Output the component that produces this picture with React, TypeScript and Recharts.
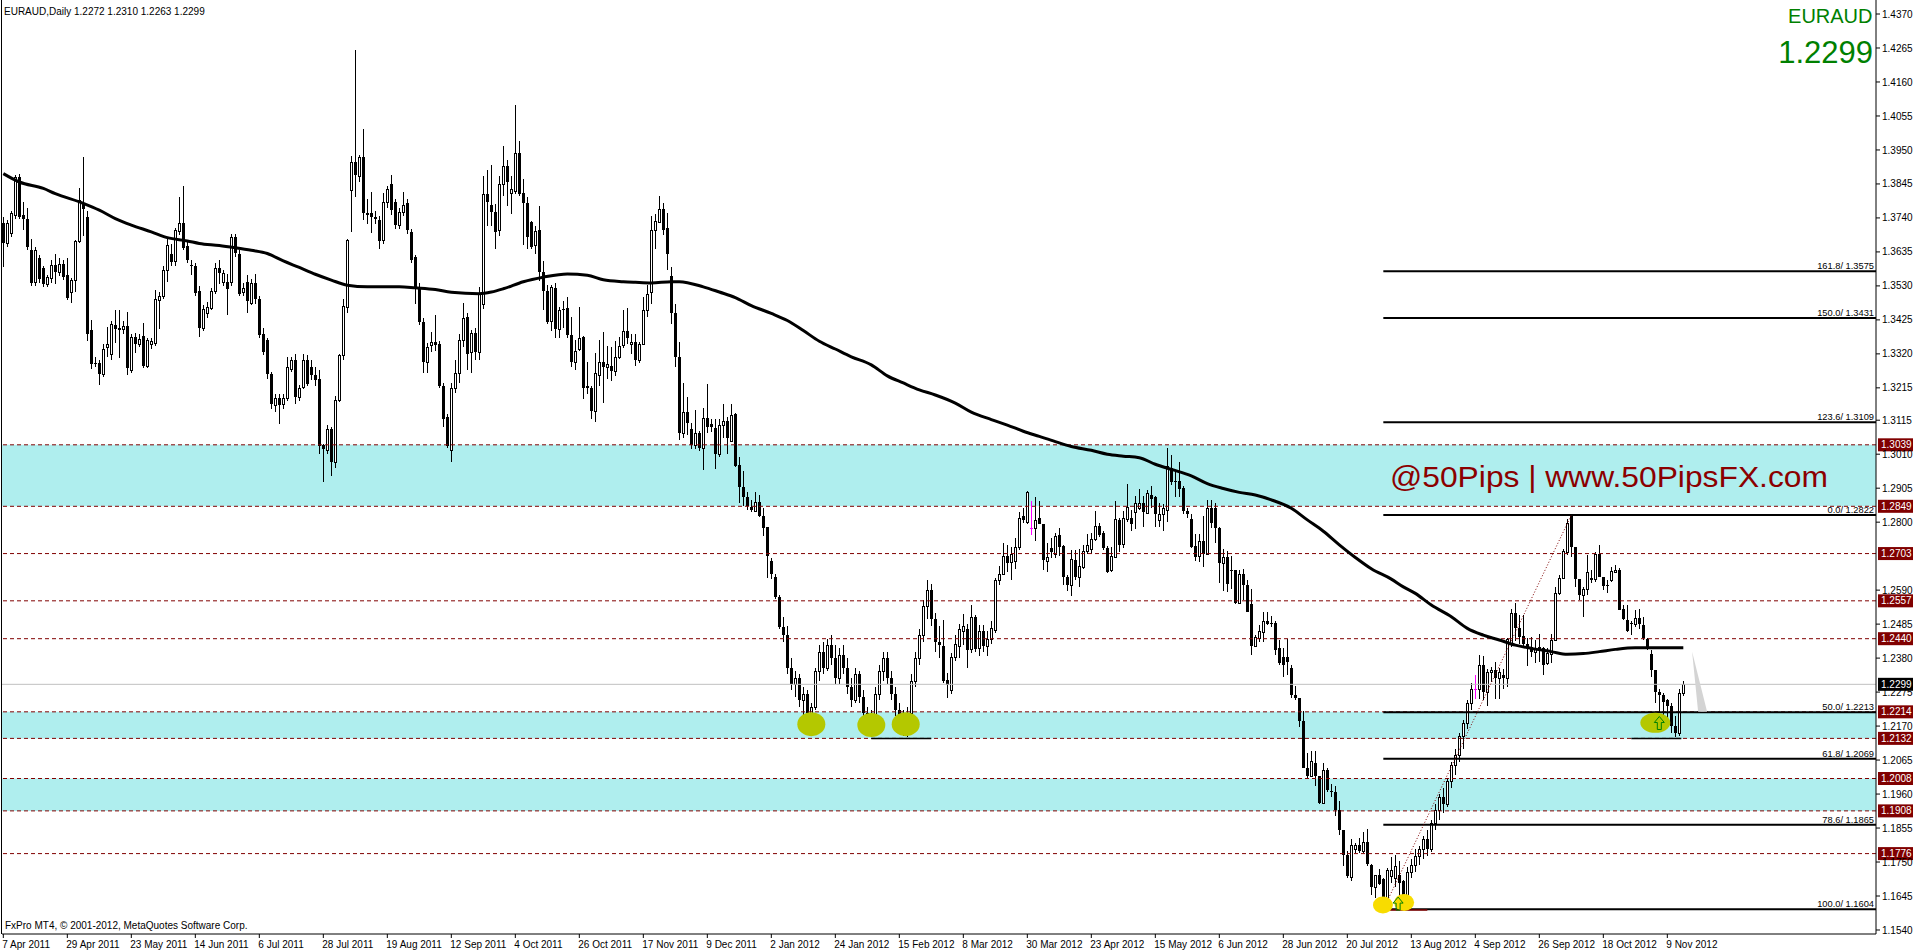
import React from 'react';
import { ComposedChart, Bar, Line, XAxis, YAxis, ReferenceLine, ReferenceArea, ReferenceDot } from 'recharts';

const FONT = '"Liberation Sans", Arial, Helvetica, sans-serif';

// ---- x axis labels (one every 16 daily bars, starting at bar 0) ----
const dateLabels = [
  '7 Apr 2011', '29 Apr 2011', '23 May 2011', '14 Jun 2011', '6 Jul 2011', '28 Jul 2011', '19 Aug 2011',
  '12 Sep 2011', '4 Oct 2011', '26 Oct 2011', '17 Nov 2011', '9 Dec 2011', '2 Jan 2012', '24 Jan 2012',
  '15 Feb 2012', '8 Mar 2012', '30 Mar 2012', '23 Apr 2012', '15 May 2012', '6 Jun 2012', '28 Jun 2012',
  '20 Jul 2012', '13 Aug 2012', '4 Sep 2012', '26 Sep 2012', '18 Oct 2012', '9 Nov 2012',
];

// ---- price axis ticks ----
const priceTicks = [
  1.437, 1.4265, 1.416, 1.4055, 1.395, 1.3845, 1.374, 1.3635, 1.353, 1.3425, 1.332, 1.3215, 1.3115, 1.301,
  1.2905, 1.28, 1.259, 1.2485, 1.238, 1.2275, 1.217, 1.2065, 1.196, 1.1855, 1.175, 1.1645, 1.154,
];

// ---- horizontal support / resistance levels (dashed, with tags) ----
const levels = [1.3039, 1.2849, 1.2703, 1.2557, 1.244, 1.2214, 1.2132, 1.2008, 1.1908, 1.1776];
const zones: [number, number][] = [[1.3039, 1.2849], [1.2214, 1.2132], [1.2008, 1.1908]];
const lastPrice = 1.2299;

// ---- fibonacci levels ----
const fibPcts = ['161.8', '150.0', '123.6', '0.0', '50.0', '61.8', '78.6', '100.0'];
const fibPrices = [1.3575, 1.3431, 1.3109, 1.2822, 1.2213, 1.2069, 1.1865, 1.1604];
const fibStartBar = 345;
const fibSwing: [number, number][] = [[345, 1.1604], [392, 1.2822]];

// ---- daily candles, O H L C in pips (x 1e-4) ----
// Apr 2011 - Jun 2011 (bars 0-59)
const candlesSeg1: number[][] = [
  [13723,13743,13589,13661],[13661,13733,13651,13723],[13692,13760,13680,13754],[13748,13872,13738,13867],[13867,13875,13738,13743],
  [13748,13790,13704,13738],[13738,13771,13642,13651],[13642,13676,13529,13539],[13542,13650,13530,13640],[13615,13625,13540,13550],
  [13584,13590,13527,13537],[13537,13565,13527,13556],[13553,13610,13540,13594],[13596,13630,13537,13573],[13573,13617,13560,13599],
  [13599,13610,13548,13558],[13563,13617,13486,13493],[13512,13555,13478,13548],[13548,13673,13512,13668],[13668,13831,13661,13795],
  [13787,13929,13684,13769],[13743,13760,13360,13380],[13393,13426,13272,13290],[13293,13310,13280,13290],[13292,13300,13225,13257],
  [13257,13350,13250,13336],[13340,13403,13311,13350],[13319,13420,13300,13412],[13409,13457,13354,13398],[13400,13457,13306,13395],
  [13398,13420,13380,13405],[13405,13450,13254,13275],[13269,13380,13260,13372],[13372,13383,13323,13350],[13352,13380,13340,13367],
  [13376,13416,13275,13283],[13283,13370,13275,13364],[13350,13370,13335,13359],[13354,13517,13345,13489],[13486,13510,13398,13498],
  [13498,13590,13490,13578],[13578,13676,13542,13656],[13628,13660,13590,13604],[13607,13710,13590,13702],[13700,13805,13687,13723],
  [13723,13838,13640,13648],[13653,13670,13600,13611],[13596,13611,13563,13591],[13592,13600,13500,13509],[13514,13529,13372,13401],
  [13401,13470,13390,13458],[13447,13480,13430,13465],[13463,13525,13455,13515],[13515,13601,13504,13584],[13584,13611,13537,13571],
  [13542,13580,13530,13571],[13542,13568,13439,13519],[13542,13690,13530,13681],[13681,13690,13620,13632],[13630,13640,13498,13506],
];
// Jul 2011 - Sep 2011 (bars 60-119)
const candlesSeg2: number[][] = [
  [13512,13540,13500,13522],[13542,13563,13447,13483],[13478,13550,13470,13540],[13540,13568,13475,13491],[13491,13500,13370,13378],
  [13381,13401,13315,13326],[13364,13370,13241,13259],[13259,13265,13151,13166],[13161,13195,13140,13184],[13184,13195,13103,13161],
  [13166,13195,13150,13184],[13184,13309,13175,13280],[13272,13309,13265,13302],[13302,13321,13164,13187],[13187,13225,13175,13215],
  [13218,13321,13210,13302],[13302,13315,13220,13228],[13280,13300,13240,13254],[13254,13280,13220,13239],[13242,13269,13012,13035],
  [13038,13043,12924,13027],[13022,13100,13010,13089],[13089,13095,12942,12986],[12986,13190,12966,13177],[13177,13320,13170,13316],
  [13316,13488,13300,13467],[13465,13676,13445,13671],[13826,13931,13697,13913],[13913,14260,13805,13872],[13869,13935,13850,13929],
  [13929,14016,13733,13754],[13754,13800,13720,13748],[13756,13821,13694,13743],[13743,13760,13720,13738],[13735,13745,13645,13669],
  [13673,13817,13660,13790],[13790,13840,13770,13828],[13846,13872,13750,13764],[13790,13800,13705,13718],[13718,13770,13705,13759],
  [13759,13820,13745,13781],[13787,13800,13690,13704],[13695,13705,13600,13611],[13618,13625,13475,13519],[13519,13540,13410,13419],
  [13419,13430,13260,13295],[13295,13355,13260,13340],[13347,13388,13327,13357],[13357,13439,13330,13347],[13352,13360,13215,13220],
  [13222,13230,13095,13120],[13125,13135,13030,13035],[13022,13230,12986,13215],[13215,13300,13200,13261],[13261,13380,13230,13364],
  [13364,13478,13340,13431],[13434,13445,13270,13321],[13326,13395,13262,13383],[13385,13400,13300,13326],[13326,13527,13300,13508],
];
// Sep 2011 - Dec 2011 (bars 120-179)
const candlesSeg3: number[][] = [
  [13474,13869,13460,13814],[13814,13887,13716,13789],[13780,13902,13716,13759],[13759,13783,13645,13698],[13704,13869,13685,13844],
  [13844,13963,13808,13899],[13899,13918,13777,13851],[13818,13869,13753,13829],[13824,14089,13814,13942],[13940,13979,13808,13814],
  [13816,13860,13655,13786],[13786,13804,13645,13682],[13726,13730,13643,13651],[13655,13716,13628,13701],[13704,13777,13545,13573],
  [13573,13606,13457,13515],[13515,13533,13411,13417],[13423,13533,13390,13527],[13523,13539,13368,13396],[13396,13466,13368,13457],
  [13460,13484,13399,13456],[13463,13496,13370,13378],[13378,13433,13279,13294],[13294,13362,13270,13330],[13335,13466,13330,13370],
  [13372,13375,13181,13215],[13221,13295,13197,13215],[13215,13220,13118,13142],[13144,13323,13108,13260],[13256,13364,13221,13295],
  [13294,13389,13169,13279],[13279,13344,13242,13289],[13282,13340,13237,13268],[13268,13360,13252,13309],[13309,13372,13303,13344],
  [13347,13454,13337,13392],[13392,13462,13352,13370],[13350,13380,13319,13356],[13356,13380,13281,13301],[13301,13357,13291,13350],
  [13350,13496,13347,13456],[13456,13533,13435,13506],[13511,13747,13474,13704],[13704,13753,13645,13731],[13728,13808,13726,13767],
  [13767,13787,13686,13704],[13708,13755,13579,13627],[13560,13588,13413,13445],[13445,13474,13279,13311],[13311,13356,13054,13075],
  [13075,13230,13059,13140],[13140,13188,13069,13105],[13087,13105,13026,13038],[13038,13148,13026,13077],[13077,13081,13020,13028],
  [13028,13154,12961,13121],[13121,13228,13075,13093],[13102,13120,13080,13093],[13091,13120,12965,13010],[13010,13118,13001,13099],
];
// Dec 2011 - Mar 2012 (bars 180-239)
const candlesSeg4: number[][] = [
  [13099,13164,13059,13114],[13114,13124,13010,13059],[13051,13164,13050,13130],[13133,13136,12970,12973],[12977,13001,12859,12910],
  [12910,12959,12849,12879],[12879,12892,12837,12849],[12846,12867,12832,12837],[12834,12892,12830,12863],[12863,12885,12815,12818],
  [12818,12843,12757,12782],[12784,12786,12629,12696],[12680,12690,12625,12640],[12632,12641,12562,12568],[12568,12574,12470,12476],
  [12476,12507,12430,12452],[12452,12480,12330,12350],[12350,12380,12280,12300],[12300,12340,12260,12320],[12320,12330,12230,12250],
  [12250,12290,12200,12270],[12270,12280,12190,12210],[12210,12240,12160,12230],[12230,12350,12220,12340],[12340,12420,12310,12400],
  [12400,12430,12330,12350],[12350,12440,12340,12420],[12420,12450,12360,12380],[12380,12420,12300,12320],[12320,12410,12300,12390],
  [12390,12420,12330,12350],[12350,12380,12270,12290],[12290,12320,12230,12250],[12250,12350,12240,12330],[12330,12340,12240,12260],
  [12260,12280,12190,12210],[12210,12230,12150,12180],[12180,12220,12135,12200],[12200,12290,12190,12270],[12270,12360,12250,12340],
  [12340,12400,12310,12380],[12380,12400,12300,12320],[12320,12340,12250,12270],[12270,12290,12200,12220],[12220,12240,12170,12190],
  [12190,12220,12140,12170],[12170,12230,12135,12210],[12210,12330,12200,12310],[12310,12400,12290,12380],[12380,12470,12360,12450],
  [12450,12560,12430,12540],[12540,12620,12500,12590],[12590,12610,12480,12500],[12500,12520,12400,12430],[12430,12480,12380,12420],
  [12417,12497,12304,12310],[12313,12334,12257,12296],[12281,12395,12270,12384],[12384,12450,12370,12423],[12417,12485,12381,12470],
];
// Mar 2012 - Jun 2012 (bars 240-299)
const candlesSeg5: number[][] = [
  [12465,12517,12420,12480],[12470,12485,12348,12405],[12408,12545,12396,12506],[12506,12514,12399,12408],[12411,12482,12387,12464],
  [12464,12482,12399,12417],[12417,12464,12387,12440],[12440,12494,12423,12474],[12467,12627,12458,12620],[12620,12665,12606,12639],
  [12639,12736,12636,12695],[12695,12730,12647,12675],[12677,12724,12620,12701],[12679,12750,12656,12724],[12724,12830,12715,12813],
  [12819,12843,12798,12807],[12801,12895,12795,12892],[12781,12864,12760,12781],[12783,12878,12742,12807],[12813,12866,12795,12795],
  [12793,12795,12653,12683],[12680,12736,12647,12691],[12719,12750,12689,12707],[12701,12766,12689,12757],[12760,12781,12695,12724],
  [12727,12730,12606,12630],[12630,12636,12588,12606],[12606,12715,12571,12686],[12683,12715,12620,12630],[12630,12718,12600,12665],
  [12663,12730,12656,12712],[12712,12762,12701,12730],[12718,12766,12701,12748],[12748,12833,12742,12789],[12789,12798,12754,12760],
  [12766,12772,12715,12719],[12719,12727,12644,12647],[12653,12724,12647,12695],[12691,12864,12689,12809],[12807,12813,12707,12730],
  [12733,12833,12719,12813],[12809,12919,12801,12848],[12813,12837,12772,12795],[12831,12880,12778,12860],[12843,12902,12837,12860],
  [12860,12880,12784,12831],[12828,12899,12825,12890],[12884,12913,12843,12872],[12878,12880,12784,12825],[12807,12860,12784,12825],
  [12825,12857,12772,12843],[12837,13029,12801,12973],[12967,13008,12916,12923],[12928,12955,12878,12925],[12928,12987,12878,12904],
  [12907,12913,12825,12833],[12833,12843,12813,12825],[12809,12825,12719,12724],[12727,12762,12680,12691],[12695,12762,12677,12742],
];
// Jun 2012 - Aug 2012 (bars 300-359)
const candlesSeg6: number[][] = [
  [12742,12819,12663,12701],[12701,12868,12701,12845],[12845,12868,12781,12798],[12845,12860,12736,12781],[12781,12784,12612,12675],
  [12675,12718,12588,12691],[12691,12710,12583,12608],[12652,12695,12594,12650],[12653,12653,12547,12549],[12549,12651,12547,12639],
  [12639,12656,12559,12606],[12606,12620,12521,12523],[12547,12594,12391,12417],[12417,12452,12417,12446],[12443,12482,12431,12464],
  [12462,12523,12429,12494],[12494,12523,12482,12485],[12488,12509,12476,12486],[12490,12494,12391,12405],[12411,12435,12358,12364],
  [12384,12411,12322,12360],[12384,12438,12328,12367],[12348,12360,12257,12265],[12266,12293,12251,12257],[12257,12257,12168,12186],
  [12186,12218,12041,12041],[12041,12086,12005,12017],[12017,12092,12015,12062],[12056,12092,11985,12017],[12017,12017,11930,11932],
  [11932,12056,11930,12033],[12033,12041,11965,11973],[11970,11991,11950,11968],[11967,11985,11891,11911],[11911,11938,11832,11849],
  [11849,11849,11737,11773],[11773,11784,11702,11707],[11704,11820,11690,11804],[11790,11808,11778,11804],[11804,11823,11778,11784],
  [11784,11843,11778,11811],[11811,11852,11737,11743],[11740,11743,11648,11672],[11672,11710,11639,11710],[11710,11729,11680,11681],
  [11696,11702,11604,11613],[11619,11731,11613,11725],[11707,11767,11684,11725],[11702,11773,11672,11737],[11710,11753,11625,11684],
  [11690,11693,11619,11625],[11625,11735,11620,11719],[11719,11760,11700,11740],[11740,11790,11720,11770],[11770,11800,11740,11790],
  [11790,11830,11760,11820],[11820,11850,11770,11790],[11790,11880,11780,11870],[11870,11930,11850,11910],[11910,11960,11880,11950],
];
// Aug 2012 - Nov 2012 (bars 360-420)
const candlesSeg7: number[][] = [
  [11950,11980,11900,11930],[11930,12010,11920,12000],[12000,12060,11980,12050],[12050,12100,12020,12080],[12080,12150,12060,12140],
  [12140,12190,12100,12180],[12180,12250,12160,12240],[12240,12304,12220,12286],[12286,12327,12255,12286],[12286,12389,12255,12358],
  [12358,12386,12252,12276],[12276,12345,12232,12338],[12338,12353,12307,12343],[12343,12369,12255,12317],[12317,12348,12255,12338],
  [12327,12345,12286,12317],[12317,12441,12291,12438],[12425,12533,12415,12518],[12518,12551,12434,12472],[12472,12513,12425,12446],
  [12448,12513,12410,12425],[12425,12441,12355,12415],[12415,12446,12384,12400],[12400,12436,12364,12410],[12415,12456,12369,12407],
  [12410,12415,12327,12358],[12364,12410,12358,12396],[12392,12456,12364,12436],[12436,12600,12433,12580],[12580,12636,12575,12629],
  [12629,12716,12625,12712],[12709,12810,12698,12796],[12818,12822,12693,12724],[12724,12724,12600,12623],[12623,12623,12559,12575],
  [12575,12600,12506,12592],[12592,12698,12575,12647],[12626,12652,12611,12621],[12623,12709,12616,12703],[12701,12729,12631,12631],
  [12631,12631,12590,12603],[12606,12621,12580,12603],[12621,12662,12616,12650],[12647,12667,12642,12652],[12652,12657,12528,12528],
  [12533,12544,12497,12500],[12497,12544,12461,12464],[12489,12495,12451,12485],[12485,12530,12477,12503],[12503,12533,12469,12485],
  [12482,12508,12436,12441],[12438,12441,12405,12415],[12394,12405,12322,12343],[12343,12343,12240,12276],[12276,12286,12209,12266],
  [12266,12271,12199,12245],[12250,12255,12188,12232],[12232,12240,12150,12170],[12170,12200,12135,12150],[12150,12286,12140,12271],
  [12272,12310,12263,12299],
];

// ---- moving average, read at sampled bars: [bar, pips] ----
const maReadings: [number, number][] = [
  [0,13877],[4,13851],[10,13831],[13,13815],[20,13785],[24,13764],[28,13738],[32,13718],[37,13697],[41,13679],[46,13669],
  [49,13661],[54,13655],[58,13648],[62,13640],[66,13630],[70,13607],[74,13587],[78,13566],[82,13548],[86,13532],[91,13527],
  [99,13527],[103,13524],[108,13519],[112,13510],[119,13506],[122,13511],[125,13521],[130,13543],[135,13557],[141,13567],
  [146,13563],[150,13549],[155,13543],[158,13541],[162,13539],[167,13543],[169,13543],[175,13527],[179,13511],[183,13494],
  [187,13469],[192,13445],[196,13423],[200,13392],[204,13359],[208,13335],[212,13311],[217,13286],[221,13252],[225,13230],
  [229,13209],[233,13193],[238,13168],[242,13140],[247,13117],[251,13100],[255,13081],[259,13065],[263,13049],[267,13034],
  [272,13022],[276,13010],[280,13004],[284,12999],[288,12979],[292,12963],[297,12943],[301,12919],[305,12904],[309,12892],
  [313,12884],[317,12869],[322,12843],[326,12807],[330,12772],[334,12730],[338,12691],[342,12656],[347,12624],[350,12600],
  [353,12580],[357,12544],[362,12508],[366,12472],[370,12451],[374,12436],[378,12420],[382,12410],[387,12400],[391,12392],
  [395,12394],[399,12400],[403,12407],[408,12412],[412,12412],[416,12412],[420,12412],
];

// ---- annotations ----
const bottomMarks: [number, number][] = [[202, 1.2176], [217, 1.2173], [225.6, 1.2176]];
const lowMarks: [number, number][] = [[344.9, 1.1617], [350.2, 1.1625]];
const rightMark: [number, number] = [413, 1.218];
const shortLines: [number, number, number][] = [[217, 232, 1.2132], [407, 419.5, 1.2132]];

const allCandles = [
  ...candlesSeg1, ...candlesSeg2, ...candlesSeg3, ...candlesSeg4, ...candlesSeg5, ...candlesSeg6, ...candlesSeg7,
];
const maMap = new Map<number, number>(maReadings);
const data = allCandles.map((k, i) => {
  const [o, h, l, c] = k;
  return {
    i,
    o: o / 1e4,
    h: Math.max(h, o, c) / 1e4,
    l: Math.min(l, o, c) / 1e4,
    c: c / 1e4,
    ma: maMap.has(i) ? (maMap.get(i) as number) / 1e4 : null,
  };
});

const X_MIN = -0.33;
const X_MAX = 468.17;
const Y_MIN = 1.15276;
const Y_MAX = 1.44133;

const Candle = (props: any) => {
  const { x, y, width, height, payload } = props;
  if (x == null || payload == null || !isFinite(x)) return null;
  const { o, h, l, c } = payload;
  const cx = Math.round(x + width / 2);
  const top = Math.min(y, y + height);
  const hgt = Math.abs(height);
  const py = (v: number) => (h === l ? top : top + ((h - v) / (h - l)) * hgt);
  const yo = py(o);
  const yc = py(c);
  const doji = o === c;
  const col = doji ? '#ff00ff' : '#000000';
  const wick = <line x1={cx + 0.5} x2={cx + 0.5} y1={top} y2={top + hgt} stroke={col} strokeWidth={1} shapeRendering="crispEdges" />;
  if (doji) {
    const yy = Math.round(yo) + 0.5;
    return (
      <g>
        {wick}
        <line x1={cx - 1} x2={cx + 2} y1={yy} y2={yy} stroke={col} strokeWidth={1} shapeRendering="crispEdges" />
      </g>
    );
  }
  if (c > o) {
    const yt = Math.round(yc);
    const yb = Math.round(yo);
    return (
      <g>
        {wick}
        <rect x={cx - 0.5} y={yt + 0.5} width={2} height={Math.max(yb - yt, 1)} fill="#ffffff" stroke="#000000" strokeWidth={1} shapeRendering="crispEdges" />
      </g>
    );
  }
  const yt = Math.round(yo);
  const yb = Math.round(yc);
  return (
    <g>
      {wick}
      <rect x={cx - 1} y={yt} width={3} height={Math.max(yb - yt, 1)} fill="#000000" shapeRendering="crispEdges" />
    </g>
  );
};

const PriceTag = (props: any) => {
  const { viewBox, text, fill } = props;
  if (!viewBox) return null;
  const x = viewBox.x + viewBox.width + 2;
  const y = viewBox.y;
  return (
    <g>
      <rect x={x} y={y - 6.5} width={35} height={13} fill={fill} />
      <text x={x + 3} y={y + 3.6} fill="#ffffff" fontSize={10} fontFamily={FONT}>{text}</text>
    </g>
  );
};

const FibLabel = (props: any) => {
  const { viewBox, text } = props;
  if (!viewBox) return null;
  return (
    <text x={viewBox.x + viewBox.width - 2} y={viewBox.y - 2} textAnchor="end" fill="#000" fontSize={9.3} fontFamily={FONT}>
      {text}
    </text>
  );
};

const XTick = (props: any) => {
  const { x, y, payload } = props;
  const idx = Math.round(payload.value / 16);
  return (
    <text x={x - 1} y={y + 8} fill="#000" fontSize={10} fontFamily={FONT} textAnchor="start">
      {dateLabels[idx]}
    </text>
  );
};

const Ellipse = (rx: number, ry: number, fill: string) => (p: any) =>
  p.cx == null ? <g /> : <ellipse cx={p.cx} cy={p.cy} rx={rx} ry={ry} fill={fill} />;

const UpArrow = (p: any) => {
  if (p.cx == null) return <g />;
  const { cx, cy } = p;
  const d = `M${cx},${cy - 7} L${cx + 5},${cy - 1} L${cx + 2},${cy - 1} L${cx + 2},${cy + 6} L${cx - 2},${cy + 6} L${cx - 2},${cy - 1} L${cx - 5},${cy - 1} Z`;
  return <path d={d} fill="none" stroke="#008000" strokeWidth={1} />;
};

const Wedge = (p: any) => {
  if (p.cx == null) return <g />;
  const { cx, cy } = p;
  return <polygon points={`${cx},${cy} ${cx + 6},${cy + 60} ${cx + 15},${cy + 60}`} fill="#d4d4d4" />;
};

export default function App() {
  return (
    <div style={{ position: 'absolute', left: 0, top: 0, width: 1914, height: 951, background: '#ffffff', overflow: 'hidden' }}>
      <ComposedChart width={1914} height={951} data={data} margin={{ top: 0, right: 0, bottom: 0, left: 2 }}>
        {zones.map(([a, b], k) => (
          <ReferenceArea key={`z${k}`} y1={a} y2={b} x1={X_MIN} x2={X_MAX} fill="#afeeee" fillOpacity={1} stroke="none" ifOverflow="visible" />
        ))}
        <XAxis
          dataKey="i"
          type="number"
          domain={[X_MIN, X_MAX]}
          allowDataOverflow
          ticks={dateLabels.map((_, k) => k * 16)}
          interval={0}
          height={17}
          tickSize={4}
          tickLine={{ stroke: '#000' }}
          axisLine={{ stroke: '#000' }}
          tick={<XTick />}
        />
        <YAxis
          orientation="right"
          type="number"
          domain={[Y_MIN, Y_MAX]}
          allowDataOverflow
          ticks={priceTicks}
          interval={0}
          width={38}
          tickSize={4}
          tickMargin={2}
          tickFormatter={(v: number) => v.toFixed(4)}
          tick={{ fontSize: 10, fill: '#000', fontFamily: FONT }}
          tickLine={{ stroke: '#000' }}
          axisLine={{ stroke: '#000' }}
        />
        <ReferenceLine y={lastPrice} stroke="#c0c0c0" strokeWidth={1} ifOverflow="visible" label={<PriceTag text={lastPrice.toFixed(4)} fill="#000000" />} />
        {levels.map((lv) => (
          <ReferenceLine
            key={`l${lv}`}
            y={lv}
            stroke="#800000"
            strokeWidth={1}
            strokeDasharray="4 3"
            ifOverflow="visible"
            label={<PriceTag text={lv.toFixed(4)} fill="#800000" />}
          />
        ))}
        {fibPrices.map((fp, k) => (
          <ReferenceLine
            key={`f${k}`}
            segment={[{ x: fibStartBar, y: fp }, { x: X_MAX, y: fp }]}
            stroke="#000"
            strokeWidth={2}
            ifOverflow="visible"
            label={<FibLabel text={`${fibPcts[k]}/ ${fp.toFixed(4)}`} />}
          />
        ))}
        <ReferenceLine
          segment={[{ x: fibSwing[0][0], y: fibSwing[0][1] }, { x: fibSwing[1][0], y: fibSwing[1][1] }]}
          stroke="#800000"
          strokeWidth={1}
          strokeDasharray="1 2"
          ifOverflow="visible"
        />
        {shortLines.map(([a, b, p], k) => (
          <ReferenceLine key={`s${k}`} segment={[{ x: a, y: p }, { x: b, y: p }]} stroke="#000" strokeWidth={1.5} ifOverflow="visible" />
        ))}
        <ReferenceLine segment={[{ x: 345, y: 1.1602 }, { x: 356, y: 1.1602 }]} stroke="#800000" strokeWidth={1.5} ifOverflow="visible" />
        {bottomMarks.map(([b, p], k) => (
          <ReferenceDot key={`b${k}`} x={b} y={p} r={12} ifOverflow="visible" shape={Ellipse(14, 12, '#b4c800')} />
        ))}
        <ReferenceDot x={rightMark[0]} y={rightMark[1]} r={10} ifOverflow="visible" shape={Ellipse(15, 10, '#b4c800')} />
        {lowMarks.map(([b, p], k) => (
          <ReferenceDot key={`y${k}`} x={b} y={p} r={9} ifOverflow="visible" shape={Ellipse(10, 8.5, '#f8dc00')} />
        ))}
        <Bar dataKey={(d: any) => [d.l, d.h]} barSize={3} shape={(p: any) => <Candle {...p} />} isAnimationActive={false} />
        <Line dataKey="ma" type="monotone" stroke="#000" strokeWidth={3} dot={false} activeDot={false} connectNulls isAnimationActive={false} />
        <ReferenceDot x={348.7} y={1.162} r={6} ifOverflow="visible" shape={UpArrow} />
        <ReferenceDot x={414} y={1.2178} r={6} ifOverflow="visible" shape={UpArrow} />
        <ReferenceDot x={422.2} y={1.24} r={6} ifOverflow="visible" shape={Wedge} />
      </ComposedChart>
      <svg width={1914} height={951} style={{ position: 'absolute', left: 0, top: 0, pointerEvents: 'none' }}>
        <line x1={1.5} x2={1.5} y1={0} y2={934} stroke="#000" strokeWidth={1} />
        <text x={4} y={14.5} fontSize={10} fontFamily={FONT} fill="#000">EURAUD,Daily  1.2272 1.2310 1.2263 1.2299</text>
        <text x={5} y={929} fontSize={10} fontFamily={FONT} fill="#000">FxPro MT4, © 2001-2012, MetaQuotes Software Corp.</text>
        <text x={1872.5} y={22.7} fontSize={20} fontFamily={FONT} fill="#008000" textAnchor="end">EURAUD</text>
        <text x={1873} y={62.7} fontSize={31} fontFamily={FONT} fill="#008000" textAnchor="end">1.2299</text>
        <text x={1390} y={486.7} fontSize={29} fontFamily={FONT} fill="#8b0000" textLength={438} lengthAdjust="spacingAndGlyphs">@50Pips | www.50PipsFX.com</text>
      </svg>
    </div>
  );
}
